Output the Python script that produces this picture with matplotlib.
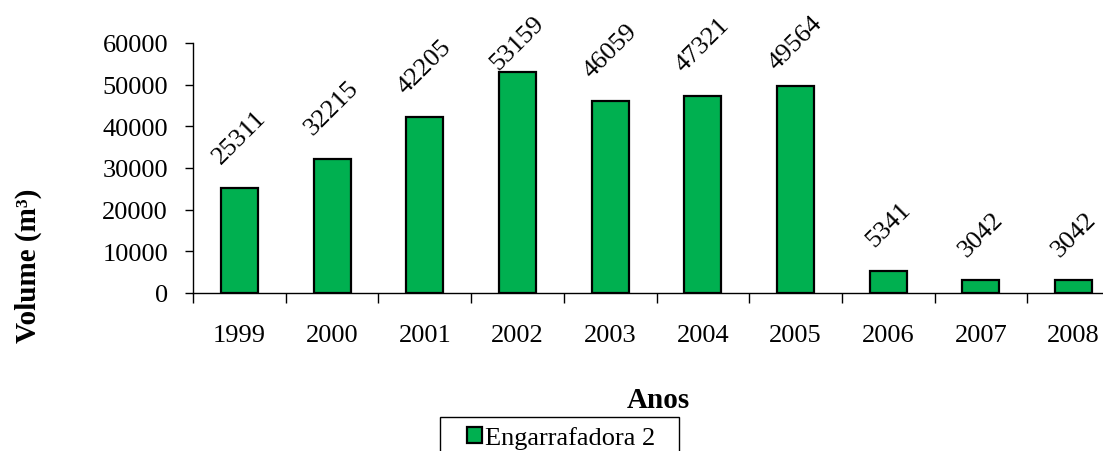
import matplotlib
matplotlib.use("Agg")
import matplotlib.pyplot as plt
from matplotlib.patches import Rectangle
import numpy as np

years = ["1999", "2000", "2001", "2002", "2003", "2004", "2005", "2006", "2007", "2008"]
volumes = [25311, 32215, 42205, 53159, 46059, 47321, 49564, 5341, 3042, 3042]
series_name = "Engarrafadora 2"
y_ticks = [0, 10000, 20000, 30000, 40000, 50000, 60000]

plt.rcParams['font.family'] = ['Liberation Serif', 'DejaVu Serif']

W, H = 1103, 452
fig = plt.figure(figsize=(W / 100, H / 100), dpi=100)
ax = fig.add_axes([193 / W, (H - 294) / H, (1120 - 193) / W, 250 / H])

FS = 19
x = np.arange(len(years))
bars = ax.bar(x, volumes, width=0.4, color="#00B050", edgecolor="black",
              linewidth=1.6, label=series_name, zorder=3)

ax.set_xlim(-0.5, len(years) - 0.5)
ax.set_ylim(0, 60000)
ax.set_yticks(y_ticks)
ax.set_yticklabels([str(v) for v in y_ticks], fontsize=FS)

# major ticks at category boundaries, labels at centers (minor)
ax.set_xticks(np.arange(-0.5, len(years) - 0.4, 1.0))
ax.set_xticklabels([])
ax.set_xticks(x, minor=True)
ax.set_xticklabels(years, minor=True, fontsize=FS)
ax.tick_params(axis="x", which="major", direction="out", length=7, width=1)
ax.tick_params(axis="x", which="minor", length=0, pad=22)
ax.tick_params(axis="y", direction="out", length=6, width=1, pad=12)

for s in ["top", "right"]:
    ax.spines[s].set_visible(False)
for s in ["left", "bottom"]:
    ax.spines[s].set_linewidth(1)

for xi, v in zip(x, volumes):
    yb = min(v + 4800, 52600)
    ax.text(xi, yb, str(v), rotation=45, ha="center", va="bottom",
            fontsize=FS, clip_on=False, zorder=4)

fig.text(28 / W, 1 - 266 / H, "Volume (m³)", rotation=90, ha="center", va="center",
         fontsize=21, fontweight="bold")
fig.text(658 / W, 1 - 400 / H, "Anos", ha="center", va="center",
         fontsize=21, fontweight="bold")

# legend frame (extends beyond the bottom of the picture)
fig.patches.append(Rectangle((440 / W, -0.05), (679 - 440) / W, (1 - 418 / H) + 0.05,
                             transform=fig.transFigure, facecolor="white",
                             edgecolor="black", linewidth=1, zorder=1))
leg = fig.legend(handles=[bars], labels=[series_name], loc="upper left",
                 bbox_to_anchor=(467 / W, 1 - 427 / H), fontsize=FS,
                 frameon=False, handlelength=0.55, handleheight=0.55,
                 handletextpad=0.15, borderpad=0, borderaxespad=0)
leg.set_zorder(2)

fig.savefig("out.png", dpi=100)
